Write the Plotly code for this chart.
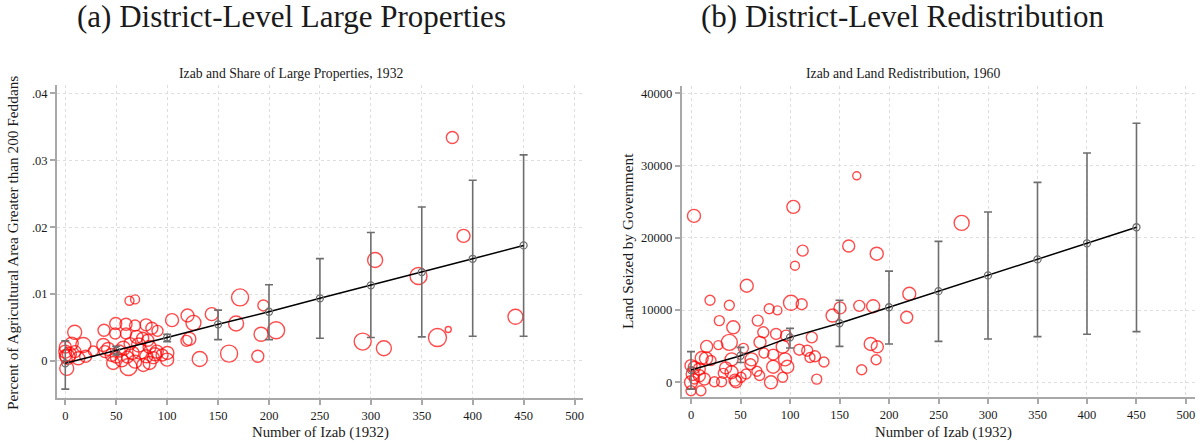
import plotly.graph_objects as go

# ---------------- data: panel (a) ----------------
a_x = [9.2, 63, 68.5, 171.6, 194.5, 104.8, 120, 125.8, 143.8, 167.7, 207, 192.2, 121.8, 119,
       132, 160.8, 189, 100.2, 100, 38, 49.5, 59.6, 68.5, 79.3, 85, 90.5, 49, 59.6, 70, 76, 81,
       0, 2.3, 0, 6.3, 17.7, 12.8, 9.5, 1.4, 0, 27.5, 37.3, 39, 45.6, 47, 50, 53, 55.4, 62,
       63.6, 61, 68.5, 73.5, 76.6, 79.5, 82.8, 82.8, 89.8, 86.5,
       304.2, 292, 312.8, 346.8, 380, 391, 365.4, 376, 442,
       42, 57, 66, 72, 88, 95, 4, 20]
a_y = [0.0043, 0.0090, 0.0092, 0.0095, 0.0083, 0.0061, 0.0068, 0.0057, 0.0070, 0.0056, 0.0046,
       0.0040, 0.0033, 0.0030, 0.0003, 0.0011, 0.0007, 0.0012, 0.0002, 0.0046, 0.0056, 0.0055,
       0.0053, 0.0054, 0.0049, 0.0045, 0.0041, 0.0041, 0.0036, 0.0034, 0.0031,
       0.0014, 0.0006, 0.0021, 0.0026, 0.0024, 0.0004, 0.0014, -0.0011, 0.0008, 0.0015, 0.0024,
       0.0014, 0.0009, -0.0003, 0.0006, 0.0015, 0.0001, -0.0009, 0.0026, 0.0006, -0.0001,
       0.0014, -0.0006, 0.0007, 0.0021, -0.0003, 0.0014, 0.0005,
       0.0151, 0.0029, 0.0019, 0.0127, 0.0334, 0.0187, 0.0035, 0.0047, 0.0066,
       0.0018, 0.0019, 0.0012, 0.0024, 0.0010, 0.0009, 0.0010, 0.0007]
a_w = [14, 9, 9, 17, 11, 13, 13, 15, 13, 15, 17, 14, 13, 11, 15, 17, 12, 13, 13, 12, 12, 12, 11,
       12, 12, 11, 11, 11, 13, 12, 12, 13, 15, 12, 13, 15, 13, 12, 14, 12, 10, 13, 12, 13, 13,
       12, 12, 13, 17, 12, 12, 13, 15, 13, 13, 13, 13, 13, 12,
       15, 17, 15, 17, 12, 13, 18, 6, 15,
       13, 14, 13, 14, 13, 12, 14, 12]

a_fit_x = [0, 50, 100, 150, 200, 250, 300, 350, 400, 450]
a_fit_y = [-0.00035, 0.00155, 0.0035, 0.00548, 0.00736, 0.00936, 0.0113, 0.01328, 0.01527, 0.01727]
a_fit_lo = [-0.0042, 0.0009, 0.0029, 0.0032, 0.0032, 0.0034, 0.0035, 0.0036, 0.0037, 0.0037]
a_fit_hi = [0.0030, 0.0022, 0.0040, 0.0076, 0.0114, 0.0153, 0.0192, 0.0230, 0.0270, 0.0308]

# ---------------- data: panel (b) ----------------
b_x = [3, 103.4, 167.4, 159.3, 112.8, 105, 187.6, 56.3, 19.2, 38.7, 101, 111.8, 79, 87.3, 143,
       150.5, 170, 184, 273.4, 220.5, 217.9, 28.6, 42.7, 38.7, 67.4, 73, 85.9, 96, 122, 15.8,
       27.6, 52.9, 69.7, 92.6, 109.4, 117.4, 120.2, 125.2, 134.3, 127, 172.4, 181.5, 188.2, 187,
       15.2, 20.2, 41, 61.2, 73.7, 83, 95, 97.3, 83, 80.8, 92.6, 66.6, 69.3, 41, 44.4, 30.9,
       32.6, 23.6, 50.5, 55.6, 0, 10, 0, 1.7, 0, 3.4, 8.4, 13.5, 8.4, 3.4, 10.8, 45.5, 35, 60]
b_y = [23030, 24280, 28580, 18860, 18220, 16140, 17800, 13360, 11360, 10670, 11000, 10810, 10170,
       9960, 9240, 10300, 10580, 10530, 22060, 12250, 9000, 8540, 7610, 5530, 8540, 6920, 6690,
       6460, 6220, 4970, 5150, 4700, 5530, 4930, 4510, 4370, 3440, 3600, 2800, 440, 1740, 5300,
       4930, 3130, 3310, 3010, 3170, 3170, 4050, 3820, 3170, 2150, 2150, 0, 690, 1520, 940, 1390,
       300, 80, 1240, 80, 690, 1150, -1180, -1180, 0, 1150, 2310, 2080, 920, 460, 1850, 460,
       3360, 70, 2000, 2500]
b_w = [13, 13, 8, 12, 11, 9, 13, 13, 10, 10, 15, 11, 10, 9, 13, 12, 11, 13, 15, 13, 12, 10, 13,
       16, 11, 11, 11, 11, 11, 12, 9, 10, 12, 13, 11, 11, 10, 11, 10, 10, 10, 13, 12, 10, 13, 10,
       13, 13, 10, 11, 13, 13, 13, 13, 10, 10, 10, 13, 12, 10, 10, 10, 10, 10, 10, 10, 13, 13,
       12, 12, 12, 12, 12, 10, 13, 12, 12, 11]

b_fit_x = [0, 50, 100, 150, 200, 250, 300, 350, 400, 450]
b_fit_y = [1690, 3680, 6220, 8170, 10390, 12610, 14790, 17010, 19240, 21460]
b_fit_lo = [-950, 2750, 4750, 4970, 5300, 5670, 6000, 6320, 6640, 7010]
b_fit_hi = [4240, 4830, 7470, 11360, 15390, 19510, 23580, 27670, 31740, 35860]

x_ticks = [0, 50, 100, 150, 200, 250, 300, 350, 400, 450, 500]
a_yticks = [0, 0.01, 0.02, 0.03, 0.04]
a_ytick_text = ["0", ".01", ".02", ".03", ".04"]
b_yticks = [0, 10000, 20000, 30000, 40000]
b_ytick_text = ["0", "10000", "20000", "30000", "40000"]

W, H = 1200, 444
FONT = "Liberation Serif"
RED = "#ff0000"
GREY = "#6e6e6e"
TXT = "#1a1a1a"


def px(v):
    return v / W


def py(v):
    return 1 - v / H


fig = go.Figure()

# scatter panels
fig.add_trace(go.Scatter(x=a_x, y=a_y, mode="markers", xaxis="x", yaxis="y",
                         marker=dict(size=a_w, color="rgba(0,0,0,0)",
                                     line=dict(color=RED, width=1.4)),
                         showlegend=False, hoverinfo="x+y"))
fig.add_trace(go.Scatter(x=b_x, y=b_y, mode="markers", xaxis="x2", yaxis="y2",
                         marker=dict(size=b_w, color="rgba(0,0,0,0)",
                                     line=dict(color=RED, width=1.4)),
                         showlegend=False, hoverinfo="x+y"))


def fit_trace(xs, ys, lo, hi, xa, ya):
    return go.Scatter(
        x=xs, y=ys, mode="lines+markers", xaxis=xa, yaxis=ya, showlegend=False,
        line=dict(color="black", width=1.5),
        marker=dict(size=7, color="rgba(0,0,0,0)", line=dict(color=GREY, width=1.3)),
        error_y=dict(type="data", symmetric=False,
                     array=[h - y for h, y in zip(hi, ys)],
                     arrayminus=[y - l for l, y in zip(lo, ys)],
                     color=GREY, thickness=1.6, width=4))


fig.add_trace(fit_trace(a_fit_x, a_fit_y, a_fit_lo, a_fit_hi, "x", "y"))
fig.add_trace(fit_trace(b_fit_x, b_fit_y, b_fit_lo, b_fit_hi, "x2", "y2"))

axis_common = dict(showline=True, linecolor="#a8a8a8", linewidth=2, ticks="outside",
                   ticklen=5, tickwidth=1.5, tickcolor="#a8a8a8", showgrid=True,
                   gridcolor="#dedede", griddash="dot", gridwidth=1, zeroline=False,
                   tickfont=dict(family=FONT, size=12.5, color=TXT), mirror=False)

top, bottom = 85, 398
fig.update_layout(
    width=W, height=H, margin=dict(l=0, r=0, t=0, b=0),
    paper_bgcolor="white", plot_bgcolor="white",
    xaxis=dict(domain=[px(57), px(583)], range=[-8.15, 508.3], tickvals=x_ticks,
               anchor="y", **axis_common),
    yaxis=dict(domain=[py(bottom), py(top)], range=[-0.00553, 0.04124], tickvals=a_yticks,
               ticktext=a_ytick_text, anchor="x", **axis_common),
    xaxis2=dict(domain=[px(681.7), px(1195)], range=[-9.4, 509.1], tickvals=x_ticks,
                anchor="y2", **axis_common),
    yaxis2=dict(domain=[py(397), py(86)], range=[-2035, 41010], tickvals=b_yticks,
                ticktext=b_ytick_text, anchor="x2", **axis_common),
)

ann = []
ann.append(dict(text="(a) District-Level Large Properties", x=px(291.5), y=py(17),
                font=dict(family=FONT, size=31, color=TXT)))
ann.append(dict(text="(b) District-Level Redistribution", x=px(903), y=py(17),
                font=dict(family=FONT, size=31, color=TXT)))
ann.append(dict(text="Izab and Share of Large Properties, 1932", x=px(291.5), y=py(74),
                font=dict(family=FONT, size=13.7, color=TXT)))
ann.append(dict(text="Izab and Land Redistribution, 1960", x=px(903), y=py(74),
                font=dict(family=FONT, size=13.7, color=TXT)))
ann.append(dict(text="Number of Izab (1932)", x=px(320), y=py(432),
                font=dict(family=FONT, size=14.8, color=TXT)))
ann.append(dict(text="Number of Izab (1932)", x=px(943), y=py(432),
                font=dict(family=FONT, size=14.8, color=TXT)))
ann.append(dict(text="Percent of Agricultural Area Greater than 200 Feddans", x=px(13),
                y=py(243), textangle=-90, font=dict(family=FONT, size=15.3, color=TXT)))
ann.append(dict(text="Land Seized by Government", x=px(627), y=py(241), textangle=-90,
                font=dict(family=FONT, size=15.3, color=TXT)))
for a in ann:
    a.update(xref="paper", yref="paper", showarrow=False, xanchor="center", yanchor="middle")
fig.update_layout(annotations=ann)

fig.write_html("out.html", config={"displayModeBar": False},
               post_script="document.body.style.margin='0';")
